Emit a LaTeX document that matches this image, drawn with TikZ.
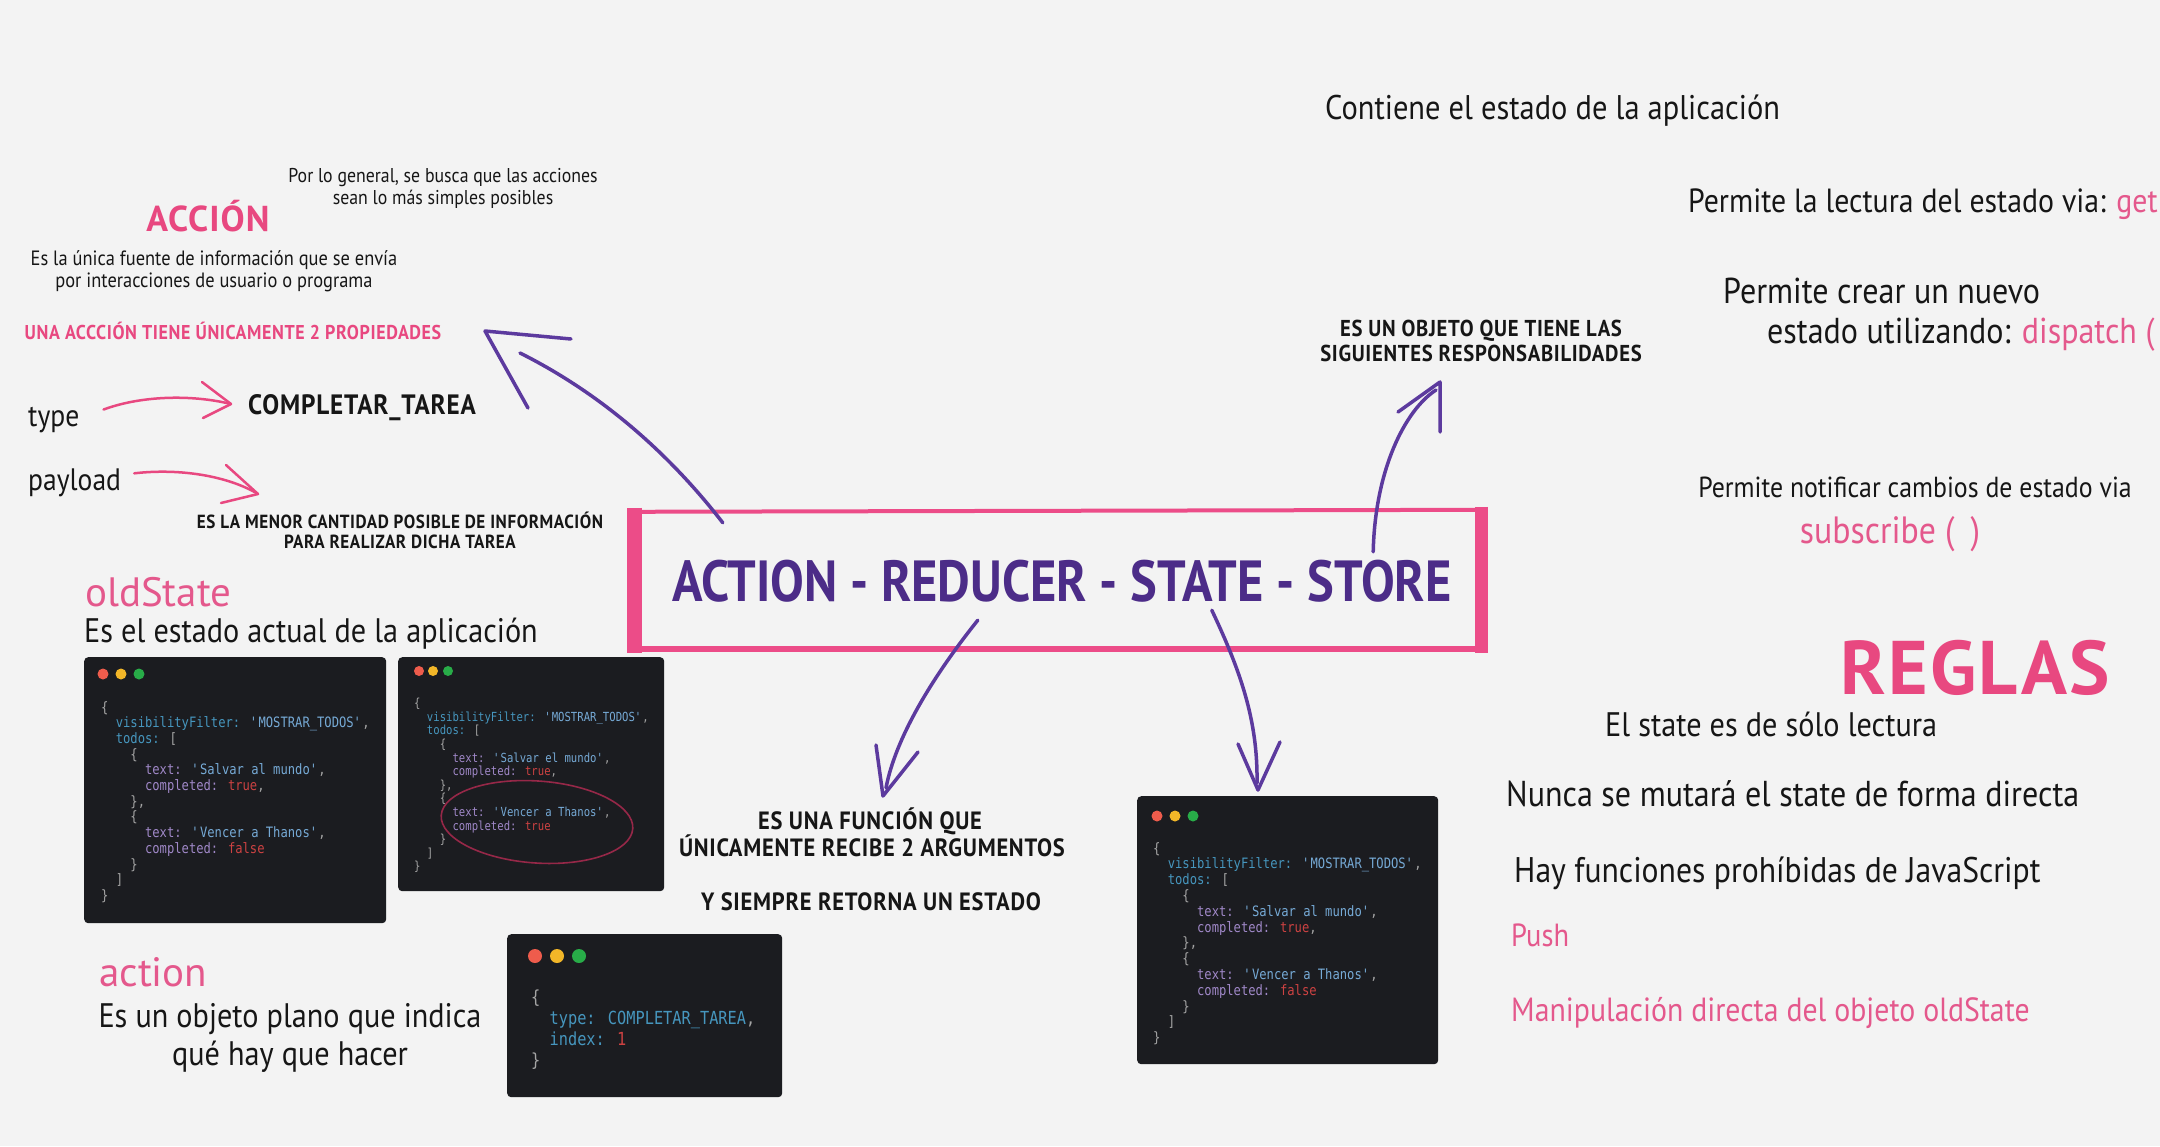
\documentclass[tikz,border=0pt]{standalone}
\usepackage{fontspec}
\setmainfont{PT Sans}[FakeStretch=0.89]
\newfontfamily\hfont{PT Sans}[FakeStretch=0.9,LetterSpace=3]
\newfontfamily\rfont{PT Sans}[LetterSpace=3]
\newfontfamily\wfont{PT Sans}
\newfontfamily\tfont{PT Sans}[FakeStretch=0.87]
\newfontfamily\codefont{DejaVu Sans Mono}[FakeStretch=0.85]
\usetikzlibrary{calc}
\definecolor{paper}{RGB}{243,243,243}
\definecolor{ink}{RGB}{22,22,22}
\definecolor{pinkc}{RGB}{232,72,128}
\definecolor{pinkt}{RGB}{228,88,140}
\definecolor{framec}{RGB}{236,76,136}
\definecolor{purp}{RGB}{76,44,136}
\definecolor{purpa}{RGB}{92,58,158}
\definecolor{codebg}{RGB}{27,28,32}
\definecolor{ckey}{RGB}{70,150,190}
\definecolor{cstr}{RGB}{118,170,214}
\definecolor{cprop}{RGB}{160,136,200}
\definecolor{clit}{RGB}{205,66,66}
\definecolor{cpunc}{RGB}{165,165,165}
\definecolor{dred}{RGB}{238,92,76}
\definecolor{dyel}{RGB}{242,182,40}
\definecolor{dgrn}{RGB}{40,172,72}
\definecolor{ovalc}{RGB}{150,40,72}
\newcommand\fsz[2]{\fontsize{#1}{#2}\selectfont}
\newcommand\qmark{\textquotesingle}
\newcommand\statecode[2]{%
\{\\
\phantom{xx}{\color{ckey}visibilityFilter:} {\color{cstr}\qmark MOSTRAR\_TODOS\qmark},\\
\phantom{xx}{\color{ckey}todos:} [\\
\phantom{xxxx}\{\\
\phantom{xxxxxx}{\color{cprop}text:} {\color{cstr}\qmark Salvar #1 mundo\qmark},\\
\phantom{xxxxxx}{\color{cprop}completed:} {\color{clit}true},\\
\phantom{xxxx}\},\\
\phantom{xxxx}\{\\
\phantom{xxxxxx}{\color{cprop}text:} {\color{cstr}\qmark Vencer a Thanos\qmark},\\
\phantom{xxxxxx}{\color{cprop}completed:} {\color{clit}#2}\\
\phantom{xxxx}\}\\
\phantom{xx}]\\
\}}
\tikzset{
  txt/.style={inner sep=0pt, text=ink},
  capsb/.style={txt, font=\hfont\bfseries\fsz{#1}{#1}},
  headb/.style={txt, font=\rfont\bfseries\fsz{#1}{#1}, text=pinkc},
  body/.style={txt, font=\fsz{#1}{#1}},
  wide/.style={txt, font=\wfont\fsz{#1}{#1}},
  parrow/.style={draw=purpa, line width=3.5pt, line cap=round, line join=round},
  pkarrow/.style={draw=pinkc, line width=2.5pt, line cap=round, line join=round},
  framebar/.style={draw=framec, line cap=butt},
  codewin/.style={fill=codebg, rounded corners=4pt, inner sep=0pt, draw=none},
  wdot/.style={circle, inner sep=0pt, minimum size=#1},
  code/.style={inner sep=0pt, align=left, text=cpunc, anchor=north west},
}
\begin{document}
\begin{tikzpicture}[x=1pt,y=-1pt]
\fill[paper] (0,0) rectangle (2160,1146);
\useasboundingbox (0,0) rectangle (2160,1146);

% ---------- left column ----------
\node[body=20, anchor=base] (porlo1) at (443,182) {Por lo general, se busca que las acciones};
\node[body=20, anchor=base] (porlo2) at (443,204) {sean lo más simples posibles};
\node[headb=36, anchor=base] (accion) at (208,231) {ACCIÓN};
\node[body=20.7, anchor=base] (unica1) at (214,265) {Es la única fuente de información que se envía};
\node[body=20.7, anchor=base] (unica2) at (214,287) {por interacciones de usuario o programa};
\node[capsb=20, anchor=base, text=pinkc] (props) at (233,339) {UNA ACCCIÓN TIENE ÚNICAMENTE 2 PROPIEDADES};
\node[body=31, anchor=base west] (type) at (28,426) {type};
\node[capsb=28, anchor=base west] (compl) at (248,414) {COMPLETAR\_TAREA};
\node[body=31, anchor=base west] (payload) at (28,490) {payload};
\node[capsb=19, anchor=base] (menor1) at (400,528) {ES LA MENOR CANTIDAD POSIBLE DE INFORMACIÓN};
\node[capsb=19, anchor=base] (menor2) at (400,548) {PARA REALIZAR DICHA TAREA};
\node[wide=41, anchor=base west, text=pinkt] (oldst) at (85,606) {oldState};
\node[body=34, anchor=base west] (esel) at (84,642) {Es el estado actual de la aplicación};
\node[wide=41, anchor=base west, text=pinkt] (actn) at (99,986) {action};
\node[body=34, anchor=base] (plano1) at (290,1027) {Es un objeto plano que indica};
\node[body=34, anchor=base] (plano2) at (290,1065) {qué hay que hacer};

% pink arrows
\coordinate (ta1) at (231,404);
\draw[pkarrow] (type.east) ++(24,-10) coordinate (ts) .. controls (140,396) and (190,394) .. (ta1);
\draw[pkarrow] (202,382) -- (ta1) -- (203,418);
\coordinate (pa1) at (258,494);
\draw[pkarrow] (payload.east) ++(13,-9) coordinate (ps) .. controls (180,468) and (228,476) .. (pa1);
\draw[pkarrow] (226,465) -- (pa1) -- (221,503);

% ---------- code windows ----------
\node[codewin, minimum width=302pt, minimum height=266pt, anchor=north west] (w1) at (84,657) {};
\node[wdot=11pt, fill=dred] (w1a) at (103,674) {};
\node[wdot=11pt, fill=dyel] (w1b) at (121,674) {};
\node[wdot=11pt, fill=dgrn] (w1c) at (139,674) {};
\node[code, font=\codefont\fsz{14.3}{15.7}] (w1t) at (101,701) {\statecode{al}{false}};

\node[codewin, minimum width=266pt, minimum height=234pt, anchor=north west] (w2) at (398,657) {};
\node[wdot=10pt, fill=dred] (w2a) at (419,671) {};
\node[wdot=10pt, fill=dyel] (w2b) at (433,671) {};
\node[wdot=10pt, fill=dgrn] (w2c) at (448,671) {};
\node[code, font=\codefont\fsz{12.5}{13.6}] (w2t) at (414,698) {\statecode{el}{true}};
\draw[ovalc, line width=1.6pt, rotate around={-4:(537,822)}] (537,822) ellipse [x radius=96, y radius=41];

\node[codewin, minimum width=275pt, minimum height=163pt, anchor=north west] (w3) at (507,934) {};
\node[wdot=14pt, fill=dred] (w3a) at (535,956) {};
\node[wdot=14pt, fill=dyel] (w3b) at (557,956) {};
\node[wdot=14pt, fill=dgrn] (w3c) at (579,956) {};
\node[code, font=\codefont\fsz{18}{21}] (w3t) at (531,990) {\{\\
\phantom{xx}{\color{ckey}type:} {\color{ckey}COMPLETAR\_TAREA},\\
\phantom{xx}{\color{ckey}index:} {\color{clit}1}\\
\}};

\node[codewin, minimum width=301pt, minimum height=268pt, anchor=north west] (w4) at (1137,796) {};
\node[wdot=11pt, fill=dred] (w4a) at (1157,816) {};
\node[wdot=11pt, fill=dyel] (w4b) at (1175,816) {};
\node[wdot=11pt, fill=dgrn] (w4c) at (1193,816) {};
\node[code, font=\codefont\fsz{14.3}{15.8}] (w4t) at (1153,842) {\statecode{al}{false}};

% ---------- central box ----------
\node[inner sep=0pt, minimum width=861pt, minimum height=142pt] (box) at (1057.5,581) {};
\node[txt, anchor=base, font=\tfont\bfseries\fsz{58}{58}, text=purp] (title) at (1062,601) {ACTION - REDUCER - STATE - STORE};
\draw[framebar, line width=4pt] ($(box.north west)+(4,2)$) -- ($(box.north east)+(-6,0)$);
\draw[framebar, line width=6pt] ($(box.south west)+(4,-3)$) -- ($(box.south east)+(-6,-3)$);
\draw[framebar, line width=15pt] ($(box.north west)+(8,-2)$) -- ($(box.south west)+(8,1)$);
\draw[framebar, line width=13pt] ($(box.north east)+(-7,-3)$) -- ($(box.south east)+(-7,1)$);

\node[capsb=25, anchor=base] (func1) at (870,829) {ES UNA FUNCIÓN QUE};
\node[capsb=25, anchor=base] (func2) at (872,856) {ÚNICAMENTE RECIBE 2 ARGUMENTOS};
\node[capsb=25, anchor=base] (func3) at (871,910) {Y SIEMPRE RETORNA UN ESTADO};
\node[capsb=23, anchor=base] (resp1) at (1481,336) {ES UN OBJETO QUE TIENE LAS};
\node[capsb=23, anchor=base] (resp2) at (1481,361) {SIGUIENTES RESPONSABILIDADES};

% purple arrows
\coordinate (a1s) at ($(box.north west)+(96,13)$);
\coordinate (a1t) at (485,331);
\draw[parrow] (a1s) .. controls (668,452) and (600,393) .. (520,353);
\draw[parrow] (571,339) -- (a1t) -- (528,408);

\coordinate (a2s) at ($(box.north east)+(-115,42)$);
\coordinate (a2t) at (1440,382);
\draw[parrow] (a2s) .. controls (1375,470) and (1405,410) .. (1436,390);
\draw[parrow] (1398,412) -- (a2t) -- (1440,432);

\coordinate (a3s) at ($(box.south west)+(351,-32)$);
\coordinate (a3t) at (883,796);
\draw[parrow] (a3s) .. controls (930,680) and (895,740) .. (886,788);
\draw[parrow] (876,745) -- (a3t) -- (918,752);

\coordinate (a4s) at ($(box.south west)+(585,-42)$);
\coordinate (a4t) at (1258,790);
\draw[parrow] (a4s) .. controls (1240,670) and (1258,720) .. (1257,783);
\draw[parrow] (1238,744) -- (a4t) -- (1280,742);

% ---------- right column ----------
\node[body=34.2, anchor=base west] (cont) at (1325,119) {Contiene el estado de la aplicación};
\node[body=33.5, anchor=base west] (lect) at (1688,212) {Permite la lectura del estado via: {\color{pinkt}get}};
\node[body=36, anchor=base west] (crear1) at (1723,303) {Permite crear un nuevo};
\node[body=36, anchor=base west] (crear2) at (1767,343) {estado utilizando: {\color{pinkt}dispatch (}};
\node[body=29, anchor=base] (notif) at (1915,497) {Permite notificar cambios de estado via};
\node[body=38, anchor=base, text=pinkt] (subs) at (1890,543) {subscribe (\hspace{16pt})};
\node[headb=76, anchor=base] (reglas) at (1975,694) {REGLAS};
\node[body=34, anchor=base west] (r1) at (1605,736) {El state es de sólo lectura};
\node[body=36, anchor=base west] (r2) at (1506,806) {Nunca se mutará el state de forma directa};
\node[body=35.6, anchor=base west] (r3) at (1514,882) {Hay funciones prohíbidas de JavaScript};
\node[body=32, anchor=base west, text=pinkt] (r4) at (1511,946) {Push};
\node[body=33.5, anchor=base west, text=pinkt] (r5) at (1511,1021) {Manipulación directa del objeto oldState};
\end{tikzpicture}
\end{document}
